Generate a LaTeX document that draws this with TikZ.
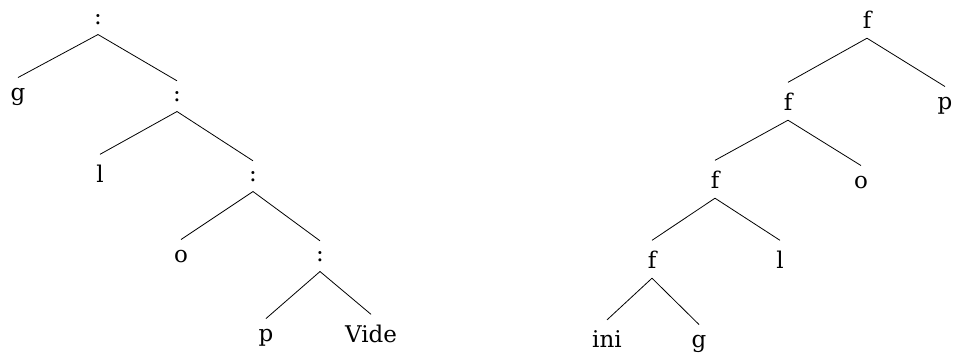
\documentclass[tikz,border=0pt]{standalone}
\usepackage{fontspec}
\setmainfont{DejaVu Serif}
\begin{document}
\begin{tikzpicture}[x=1pt,y=-1pt,
  lbl/.style={anchor=base,inner sep=10pt,font=\fontsize{23}{28}\selectfont},
  edge/.style={line width=0.8pt,black}]
\useasboundingbox (0,0) rectangle (958,354);
% left tree
\node[lbl] (c1) at (98,24) {:};
\node[lbl] (g1) at (18,100) {g};
\node[lbl] (c2) at (177,101) {:};
\node[lbl] (l1) at (100,182) {l};
\node[lbl] (c3) at (253,181) {:};
\node[lbl] (o1) at (181,262) {o};
\node[lbl] (c4) at (320,261) {:};
\node[lbl] (p1) at (266,341) {p};
\node[lbl] (v1) at (371,342) {Vide};
\draw[edge] (c1.south) -- (g1.north);
\draw[edge] (c1.south) -- (c2.north);
\draw[edge] (c2.south) -- (l1.north);
\draw[edge] (c2.south) -- (c3.north);
\draw[edge] (c3.south) -- (o1.north);
\draw[edge] (c3.south) -- (c4.north);
\draw[edge] (c4.south) -- (p1.north);
\draw[edge] (c4.south) -- (v1.north);
% right tree
\node[lbl] (f1) at (867,28) {f};
\node[lbl] (f2) at (788,110) {f};
\node[lbl] (p2) at (945,109) {p};
\node[lbl] (f3) at (715,188) {f};
\node[lbl] (o2) at (861,188) {o};
\node[lbl] (f4) at (652,268) {f};
\node[lbl] (l2) at (780,268) {l};
\node[lbl] (i2) at (607,347) {ini};
\node[lbl] (g2) at (699,347) {g};
\draw[edge] (f1.south) -- (f2.north);
\draw[edge] (f1.south) -- (p2.north);
\draw[edge] (f2.south) -- (f3.north);
\draw[edge] (f2.south) -- (o2.north);
\draw[edge] (f3.south) -- (f4.north);
\draw[edge] (f3.south) -- (l2.north);
\draw[edge] (f4.south) -- (i2.north);
\draw[edge] (f4.south) -- (g2.north);
\end{tikzpicture}
\end{document}
